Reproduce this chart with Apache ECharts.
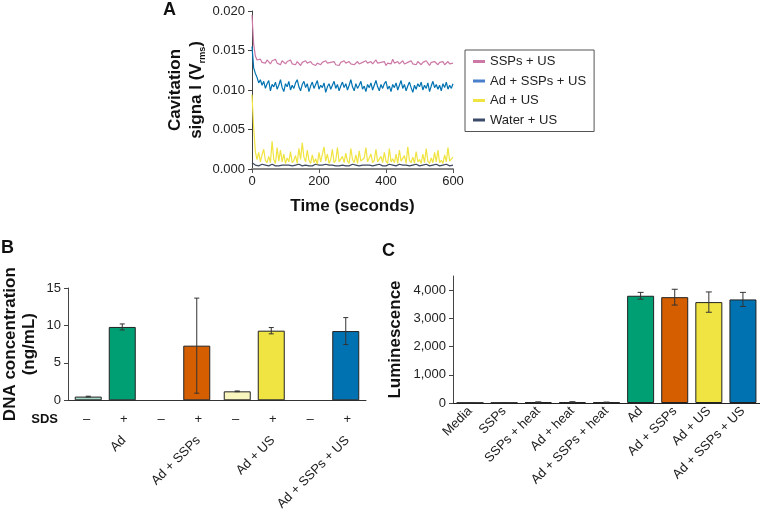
<!DOCTYPE html>
<html><head><meta charset="utf-8">
<script src="https://cdn.jsdelivr.net/npm/echarts@6/dist/echarts.min.js"></script>
<style>html,body{margin:0;padding:0;background:#fff}#c{width:760px;height:513px}</style>
</head><body><div id="c"></div>
<script>
// ---------- Panel A data ----------
const timeSec = [0,5,10,15,20,25,30,35,40,45,50,55,60,65,70,75,80,85,90,95,100,105,110,115,120,125,130,135,140,145,150,155,160,165,170,175,180,185,190,195,200,205,210,215,220,225,230,235,240,245,250,255,260,265,270,275,280,285,290,295,300,305,310,315,320,325,330,335,340,345,350,355,360,365,370,375,380,385,390,395,400,405,410,415,420,425,430,435,440,445,450,455,460,465,470,475,480,485,490,495,500,505,510,515,520,525,530,535,540,545,550,555,560,565,570,575,580,585,590,595,600];
const seriesNamesA = ['SSPs + US','Ad + SSPs + US','Ad + US','Water + US'];
const sspsUS = [0.0195,0.0158,0.0143,0.0138,0.0136,0.0139,0.0135,0.0137,0.0134,0.0138,
0.0136,0.0133,0.0137,0.0135,0.0139,0.0134,0.0136,0.0132,0.0137,0.0135,
0.0133,0.0136,0.0134,0.0138,0.0133,0.0135,0.0132,0.0136,0.0134,0.0131,
0.0135,0.0133,0.0137,0.0134,0.0132,0.0136,0.0133,0.0135,0.0131,0.0134,
0.0136,0.0132,0.0135,0.0133,0.0137,0.0134,0.0132,0.0135,0.0133,0.0136,
0.0132,0.0134,0.0131,0.0135,0.0133,0.0137,0.0134,0.0132,0.0136,0.0133,
0.0135,0.0132,0.0134,0.0136,0.0133,0.0131,0.0135,0.0133,0.0137,0.0134,
0.0132,0.0136,0.0133,0.0135,0.0138,0.0134,0.0132,0.0135,0.0133,0.0136,
0.0131,0.0134,0.0136,0.0133,0.0139,0.0134,0.0132,0.0136,0.0133,0.0135,
0.0137,0.0133,0.0131,0.0135,0.0134,0.0137,0.0133,0.0135,0.0132,0.0136,
0.0134,0.0132,0.0135,0.0133,0.0137,0.0134,0.0131,0.0135,0.0133,0.0136,
0.0134,0.0132,0.0135,0.0133,0.0136,0.0132,0.0134,0.0136,0.0133,0.0135,
0.0134];
const adSspsUS = [0.0155,0.0128,0.0121,0.0116,0.0109,0.0113,0.0106,0.0111,0.0102,0.0108,
0.0112,0.0099,0.0107,0.0104,0.0110,0.0101,0.0106,0.0113,0.0103,0.0098,
0.0108,0.0104,0.0111,0.0100,0.0106,0.0102,0.0109,0.0113,0.0104,0.0099,
0.0107,0.0111,0.0103,0.0108,0.0098,0.0105,0.0110,0.0102,0.0107,0.0112,
0.0101,0.0106,0.0103,0.0109,0.0097,0.0104,0.0108,0.0101,0.0106,0.0111,
0.0102,0.0107,0.0099,0.0105,0.0110,0.0103,0.0108,0.0100,0.0106,0.0113,
0.0104,0.0099,0.0108,0.0102,0.0106,0.0111,0.0101,0.0105,0.0098,0.0107,
0.0103,0.0109,0.0100,0.0106,0.0112,0.0104,0.0099,0.0107,0.0102,0.0108,
0.0111,0.0101,0.0105,0.0098,0.0107,0.0103,0.0109,0.0100,0.0106,0.0112,
0.0102,0.0107,0.0099,0.0105,0.0110,0.0103,0.0097,0.0106,0.0101,0.0108,
0.0104,0.0110,0.0100,0.0106,0.0102,0.0109,0.0098,0.0105,0.0111,0.0103,
0.0107,0.0101,0.0106,0.0099,0.0108,0.0103,0.0110,0.0101,0.0106,0.0102,
0.0108];
const adUS = [0.0094,0.0052,0.0022,0.0012,0.0021,0.0009,0.0018,0.0025,0.0011,0.0008,
0.0016,0.0008,0.0035,0.0012,0.0007,0.0027,0.0010,0.0024,0.0009,0.0019,
0.0007,0.0014,0.0009,0.0022,0.0008,0.0011,0.0017,0.0007,0.0026,0.0012,
0.0033,0.0015,0.0009,0.0024,0.0011,0.0007,0.0018,0.0008,0.0013,0.0006,
0.0021,0.0009,0.0007,0.0028,0.0010,0.0019,0.0007,0.0012,0.0025,0.0008,
0.0011,0.0027,0.0009,0.0007,0.0016,0.0008,0.0020,0.0010,0.0007,0.0026,
0.0012,0.0008,0.0018,0.0007,0.0023,0.0010,0.0008,0.0014,0.0027,0.0009,
0.0007,0.0019,0.0008,0.0011,0.0025,0.0009,0.0007,0.0016,0.0008,0.0021,
0.0010,0.0007,0.0026,0.0009,0.0013,0.0008,0.0019,0.0007,0.0024,0.0010,
0.0008,0.0017,0.0007,0.0028,0.0011,0.0008,0.0015,0.0007,0.0022,0.0009,
0.0012,0.0007,0.0019,0.0008,0.0026,0.0010,0.0007,0.0014,0.0008,0.0021,
0.0009,0.0024,0.0008,0.0011,0.0007,0.0018,0.0009,0.0027,0.0010,0.0008,
0.0015];
const waterUS = [0.0008,0.0006,0.0005,0.0006,0.0004,0.0005,0.0006,0.0004,0.0005,0.0005,
0.0004,0.0005,0.0006,0.0005,0.0004,0.0005,0.0004,0.0006,0.0005,0.0004,
0.0005,0.0004,0.0005,0.0006,0.0004,0.0005,0.0005,0.0004,0.0006,0.0005,
0.0004,0.0005,0.0005,0.0007,0.0004,0.0005,0.0004,0.0005,0.0006,0.0004,
0.0005,0.0004,0.0005,0.0005,0.0006,0.0004,0.0005,0.0004,0.0005,0.0006,
0.0004,0.0005,0.0004,0.0005,0.0005,0.0006,0.0004,0.0005,0.0004,0.0005,
0.0006,0.0004,0.0005,0.0005,0.0004,0.0006,0.0005,0.0004,0.0005,0.0004,
0.0005,0.0006,0.0004,0.0005,0.0005,0.0004,0.0006,0.0005,0.0004,0.0005,
0.0004,0.0005,0.0006,0.0004,0.0005,0.0005,0.0004,0.0005,0.0006,0.0004,
0.0005,0.0004,0.0005,0.0006,0.0004,0.0005,0.0005,0.0004,0.0006,0.0005,
0.0004,0.0005,0.0005,0.0004,0.0006,0.0005,0.0004,0.0005,0.0005,0.0004,
0.0006,0.0005,0.0004,0.0005,0.0005,0.0004,0.0006,0.0005,0.0004,0.0005,
0.0005];

// ---------- Panel B data ----------
const bGroups = ['Ad','Ad + SSPs','Ad + US','Ad + SSPs + US'];
const sdsLabels = ['\u2013','+','\u2013','+','\u2013','+','\u2013','+'];
const bNameSlots = ['','Ad','','Ad + SSPs','','Ad + US','','Ad + SSPs + US'];
const bMinusMean = [0.5, '-', 1.2, '-'];
const bMinusErr  = [0.05, '-', 0.05, '-'];
const bPlusMean  = [9.8, 7.3, 9.3, 9.25];
const bPlusErr   = [0.4, 6.35, 0.42, 1.8];

// ---------- Panel C data ----------
const cCats = ['Media','SSPs','SSPs + heat','Ad + heat','Ad + SSPs + heat','Ad','Ad + SSPs','Ad + US','Ad + SSPs + US'];
const cMean = [10, 12, 30, 35, 25, 3800, 3750, 3575, 3670];
const cErr  = [5, 5, 10, 10, 8, 120, 280, 360, 250];
const cTicks = [0, 1000, 2000, 3000, 4000];

// ---------- styles ----------
const FONT = 'Liberation Sans, Arial, Helvetica, sans-serif';
const colorsA = ['#cc79a7','#0072b2','#f0e442','#3c4a5e'];
const legendColorsA = ['#cc79a7','#4a7fcc','#f0e442','#3c4a6a'];
const bMinusColors = ['#a6dbc8','#ffffff','#f9f5be','#ffffff'];
const bPlusColors = ['#009e73','#d55e00','#f0e442','#0072b2'];
const cColors = ['#888','#888','#888','#888','#888','#009e73','#d55e00','#f0e442','#0072b2'];
const BAR_B = 27, GAP_B = 0.26;
const offB = BAR_B * (1 + GAP_B) / 2;

function errRender(offsetPx, capHalf) {
  return function (params, api) {
    const i = api.value(0), m = api.value(1), e = api.value(2);
    if (isNaN(m) || isNaN(e)) return;
    const top = api.coord([i, m + e]);
    const bot = api.coord([i, m - e]);
    const x = top[0] + offsetPx;
    const st = { stroke: '#333', lineWidth: 1 };
    return { type: 'group', children: [
      { type: 'line', shape: { x1: x, y1: top[1], x2: x, y2: bot[1] }, style: st },
      { type: 'line', shape: { x1: x - capHalf, y1: top[1], x2: x + capHalf, y2: top[1] }, style: st },
      { type: 'line', shape: { x1: x - capHalf, y1: bot[1], x2: x + capHalf, y2: bot[1] }, style: st }
    ]};
  };
}

const seriesA = [sspsUS, adSspsUS, adUS, waterUS].map((vals, k) => ({
  name: seriesNamesA[k], type: 'line', xAxisIndex: 0, yAxisIndex: 0,
  data: timeSec.map((t, i) => [t, vals[i]]),
  showSymbol: false, symbol: 'none', z: 4 - k,
  lineStyle: { color: colorsA[k], width: 1.2 }, itemStyle: { color: colorsA[k] }
}));

const axisLabelStyle = { fontFamily: FONT, fontSize: 13, color: '#222' };
const nameStyle = { fontFamily: FONT, fontSize: 17, fontWeight: 'bold', color: '#111', lineHeight: 19 };

const chart = echarts.init(document.getElementById('c'), null, { renderer: 'canvas' });
chart.setOption({
  animation: false,
  backgroundColor: '#fff',
  title: [
    { text: 'A', left: 163, top: 1, padding: 0, textStyle: { fontFamily: FONT, fontSize: 18, fontWeight: 'bold', color: '#111' } },
    { text: 'B', left: 1, top: 239, padding: 0, textStyle: { fontFamily: FONT, fontSize: 18, fontWeight: 'bold', color: '#111' } },
    { text: 'C', left: 382, top: 242, padding: 0, textStyle: { fontFamily: FONT, fontSize: 18, fontWeight: 'bold', color: '#111' } }
  ],
  legend: {
    orient: 'vertical', left: 465, top: 50,
    padding: [5, 8, 5, 8], itemGap: 6.5, itemWidth: 12, itemHeight: 3,
    borderColor: '#555', borderWidth: 1, backgroundColor: '#fff',
    icon: 'rect',
    textStyle: { fontFamily: FONT, fontSize: 13, color: '#222' },
    data: seriesNamesA.map((n, k) => ({ name: n, itemStyle: { color: legendColorsA[k] } }))
  },
  grid: [
    { left: 252, top: 11, width: 201, height: 158 },
    { left: 66, top: 288, width: 300, height: 115 },
    { left: 453, top: 276, width: 307, height: 127 }
  ],
  xAxis: [
    { gridIndex: 0, type: 'value', position: 'bottom', min: 0, max: 600, interval: 200,
      axisLine: { lineStyle: { color: '#888', width: 2 } },
      axisTick: { show: true, length: 4, lineStyle: { color: '#555' } },
      axisLabel: Object.assign({ margin: 6 }, axisLabelStyle),
      splitLine: { show: false },
      name: 'Time (seconds)', nameLocation: 'middle', nameGap: 28, nameTextStyle: nameStyle },
    { gridIndex: 1, type: 'category', position: 'bottom', data: bGroups,
      axisLine: { lineStyle: { color: '#333', width: 1 } },
      axisTick: { show: false }, axisLabel: { show: false } },
    { gridIndex: 1, type: 'category', position: 'bottom', data: sdsLabels, offset: 19,
      axisLine: { show: false }, axisTick: { show: false },
      axisLabel: Object.assign({ margin: 0, verticalAlign: 'middle', interval: 0 }, axisLabelStyle),
      name: 'SDS', nameLocation: 'start', nameGap: 10,
      nameTextStyle: { fontFamily: FONT, fontSize: 13, fontWeight: 'bold', color: '#111', verticalAlign: 'middle' } },
    { gridIndex: 1, type: 'category', position: 'bottom', data: bNameSlots, offset: 0,
      axisLine: { show: false }, axisTick: { show: false },
      axisLabel: Object.assign({ margin: 38, rotate: 45, interval: 0 }, axisLabelStyle) },
    { gridIndex: 2, type: 'category', position: 'bottom', data: cCats,
      axisLine: { lineStyle: { color: '#222', width: 1 } },
      axisTick: { show: false },
      axisLabel: Object.assign({ margin: 6, rotate: 45, interval: 0 }, axisLabelStyle) }
  ],
  yAxis: [
    { gridIndex: 0, type: 'value', min: 0, max: 0.02, interval: 0.005,
      axisLine: { show: true, lineStyle: { color: '#444' } },
      axisTick: { show: true, length: 4, lineStyle: { color: '#444' } },
      axisLabel: Object.assign({ margin: 7, formatter: v => v.toFixed(3) }, axisLabelStyle),
      splitLine: { show: false },
      name: '{a|Cavitation}\n{a|signa l (V}{s|rms}{a|)}', nameLocation: 'middle', nameGap: 45,
      nameTextStyle: { rich: {
        a: { fontFamily: FONT, fontSize: 17, fontWeight: 'bold', color: '#111', lineHeight: 21 },
        s: { fontFamily: FONT, fontSize: 9, fontWeight: 'bold', color: '#111', lineHeight: 21, verticalAlign: 'bottom' }
      } } },
    { gridIndex: 1, type: 'value', min: 0, max: 15, interval: 5,
      axisLine: { show: true, lineStyle: { color: '#444' } },
      axisTick: { show: true, length: 4, lineStyle: { color: '#444' } },
      axisLabel: Object.assign({ margin: 7 }, axisLabelStyle),
      splitLine: { show: false },
      name: 'DNA concentration\n(ng/mL)', nameLocation: 'middle', nameGap: 29, nameTextStyle: nameStyle },
    { gridIndex: 2, type: 'value', min: 0, max: 4500,
      axisLine: { show: true, lineStyle: { color: '#444' } },
      axisTick: { show: true, length: 4, lineStyle: { color: '#444' }, customValues: cTicks },
      axisLabel: Object.assign({ margin: 7, customValues: cTicks, formatter: v => v.toLocaleString('en-US') }, axisLabelStyle),
      splitLine: { show: false },
      name: 'Luminescence', nameLocation: 'middle', nameGap: 48, nameTextStyle: nameStyle }
  ],
  series: seriesA.concat([
    { name: 'SDS \u2013', type: 'bar', xAxisIndex: 1, yAxisIndex: 1, barWidth: BAR_B, barGap: (GAP_B * 100) + '%',
      data: bMinusMean.map((v, i) => ({ value: v, itemStyle: { color: bMinusColors[i] } })),
      itemStyle: { borderColor: '#222', borderWidth: 1 } },
    { name: 'SDS +', type: 'bar', xAxisIndex: 1, yAxisIndex: 1, barWidth: BAR_B, barGap: (GAP_B * 100) + '%',
      data: bPlusMean.map((v, i) => ({ value: v, itemStyle: { color: bPlusColors[i] } })),
      itemStyle: { borderColor: '#222', borderWidth: 1 } },
    { type: 'custom', xAxisIndex: 1, yAxisIndex: 1, z: 10, renderItem: errRender(-offB, 2.5),
      encode: { x: 0, y: 1 }, data: bMinusMean.map((m, i) => [i, m, bMinusErr[i]]) },
    { type: 'custom', xAxisIndex: 1, yAxisIndex: 1, z: 10, renderItem: errRender(offB, 2.5),
      encode: { x: 0, y: 1 }, data: bPlusMean.map((m, i) => [i, m, bPlusErr[i]]) },
    { type: 'bar', xAxisIndex: 4, yAxisIndex: 2, barWidth: 27,
      data: cMean.map((v, i) => ({ value: v, itemStyle: { color: cColors[i] } })),
      itemStyle: { borderColor: '#222', borderWidth: 1 } },
    { type: 'custom', xAxisIndex: 4, yAxisIndex: 2, z: 10, renderItem: errRender(0, 3),
      encode: { x: 0, y: 1 }, data: cMean.map((m, i) => [i, m, cErr[i]]) }
  ])
});
</script></body></html>
